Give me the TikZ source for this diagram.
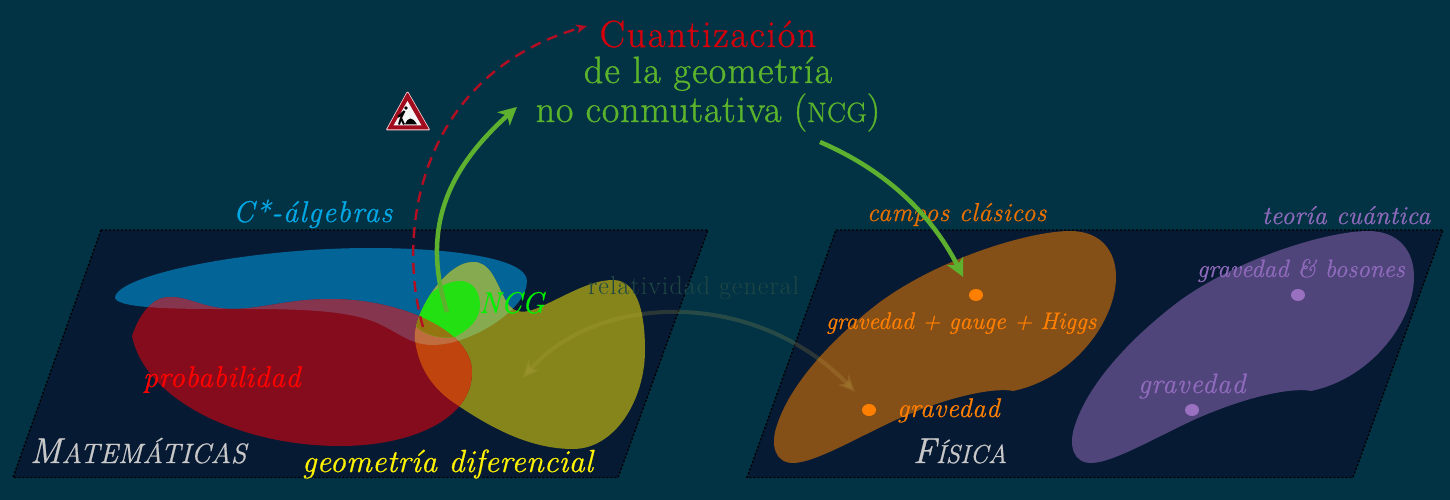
\documentclass[tikz,border=0pt]{standalone}
\usepackage{fontspec}
\setmainfont{Latin Modern Roman}
\usetikzlibrary{arrows.meta,bending,shapes.geometric}
\definecolor{bgc}{HTML}{023345}
\definecolor{planec}{HTML}{071A33}
\definecolor{bluea}{HTML}{036497}
\definecolor{reda}{HTML}{850C1C}
\definecolor{yela}{HTML}{85851B}
\definecolor{yb}{HTML}{85AA50}
\definecolor{rb}{HTML}{85364E}
\definecolor{ry}{HTML}{C0440E}
\definecolor{ryb}{HTML}{BF6C3E}
\definecolor{greena}{HTML}{22E012}
\definecolor{rg}{HTML}{957510}
\definecolor{orblob}{HTML}{854F18}
\definecolor{publob}{HTML}{4F457A}
\definecolor{orc}{HTML}{FF7F00}
\definecolor{orlab}{HTML}{E87000}
\definecolor{puc}{HTML}{9A70C0}
\definecolor{pulab}{HTML}{8F6ABC}
\definecolor{titr}{HTML}{D4000C}
\definecolor{titg}{HTML}{5BB42B}
\definecolor{arrg}{HTML}{5DB12F}
\definecolor{dashr}{HTML}{B40E22}
\definecolor{faint}{HTML}{BEAA4B}
\definecolor{cyanlab}{HTML}{00A9E6}
\definecolor{graylab}{HTML}{C8C8C8}
\definecolor{faintlab}{HTML}{1E4644}
\definecolor{ncgc}{HTML}{00F000}
\tikzset{
  plane/.style={fill=planec,draw=black,dash pattern=on 2pt off 2pt,line width=1.4pt},
  lab/.style 2 args={anchor=base west,inner sep=0pt,outer sep=0pt,font=\itshape\fontsize{#1}{#1}\selectfont\addfontfeature{FakeBold=0.7,LetterSpace=#2}},
  tit/.style 2 args={anchor=base,inner sep=0pt,outer sep=0pt,font=\fontsize{#1}{#1}\selectfont\addfontfeature{FakeBold=1,LetterSpace=#2}},
  dotmark/.style={ellipse,minimum width=14pt,minimum height=12pt,inner sep=0pt},
  bigarrow/.style={arrg,line width=4.5pt,-{Stealth[length=18pt,width=18pt,inset=5pt,bend]}},
}
\newcommand\pathB{(115,298) .. controls (118,307) and (160,309) .. (217,309) .. controls (280,309) and (340,308) .. (375,322) .. controls (400,333) and (410,345) .. (433,345) .. controls (470,345) and (527,310) .. (527,281) .. controls (527,258) and (450,248) .. (370,248) .. controls (250,248) and (115,275) .. (115,298) -- cycle}
\newcommand\pathR{(132,336) .. controls (138,318) and (150,297) .. (170,297) .. controls (190,297) and (205,309) .. (233,309) .. controls (260,309) and (290,299) .. (330,299) .. controls (400,299) and (472,330) .. (472,372) .. controls (472,420) and (410,446) .. (340,446) .. controls (240,446) and (145,400) .. (132,336) -- cycle}
\newcommand\pathY{(415,340) .. controls (412,315) and (445,262) .. (473,262) .. controls (490,262) and (495,280) .. (503,295) .. controls (510,312) and (520,316) .. (540,307) .. controls (565,296) and (590,280) .. (613,280) .. controls (640,280) and (645,320) .. (645,350) .. controls (645,400) and (615,449) .. (573,449) .. controls (530,449) and (490,428) .. (450,400) .. controls (430,385) and (418,365) .. (415,340) -- cycle}
\newcommand\pathG{(412,318) .. controls (422,298) and (442,281) .. (460,281) .. controls (475,281) and (480,295) .. (480,305) .. controls (480,320) and (468,330) .. (455,337) .. controls (438,340) and (414,332) .. (412,318) -- cycle}
\newcommand\pathO{(793,463) .. controls (775,463) and (770,445) .. (777,425) .. controls (790,385) and (830,340) .. (880,302) .. controls (940,258) and (1030,231) .. (1070,231) .. controls (1100,231) and (1116,250) .. (1116,277) .. controls (1116,320) and (1075,378) .. (1013,391) .. controls (1000,388) and (960,392) .. (900,418) .. controls (860,436) and (815,463) .. (793,463) -- cycle}
\begin{document}
\begin{tikzpicture}[x=1pt,y=-1pt]
\useasboundingbox (0,0) rectangle (1450,500);
\fill[bgc] (0,0) rectangle (1450,500);
\draw[plane] (101,230) -- (708,230) -- (618,477.5) -- (13,477.5) -- cycle;
\draw[plane] (836,230) -- (1443,230) -- (1353,477.5) -- (747,477.5) -- cycle;
% mathematics blobs, overlaps painted region by region
\fill[bluea] \pathB;
\fill[yela] \pathY;
\fill[reda] \pathR;
\begin{scope}\clip \pathB; \fill[yb] \pathY; \fill[rb] \pathR; \end{scope}
\begin{scope}\clip \pathY; \fill[ry] \pathR; \begin{scope}\clip \pathB; \fill[ryb] \pathR; \end{scope}\end{scope}
\begin{scope}\clip \pathY; \fill[greena] \pathG;
\begin{scope}\clip \pathG; \fill[rg] \pathR; \end{scope}\end{scope}
% physics blobs
\fill[orblob] \pathO;
\begin{scope}[xshift=298pt]\fill[publob] \pathO;\end{scope}
\node[dotmark,fill=orc] (d1) at (976,295) {};
\node[dotmark,fill=orc] (d2) at (869,410) {};
\node[dotmark,fill=puc] (d3) at (1298,295) {};
\node[dotmark,fill=puc] (d4) at (1192,410) {};
% titles
\node[tit={38}{4.4},text=titr] (t1) at (708,47) {Cuantización};
\node[tit={38}{3.2},text=titg] (t2) at (708,83) {de la geometría};
\node[tit={38}{2.1},text=titg] (t3) at (708,122) {no conmutativa ({\fontsize{28}{28}\selectfont NCG})};
% labels
\node[lab={30}{4},text=cyanlab] (l1) at (233,222) {C*-álgebras};
\node[lab={26}{2.3},text=orlab] (l2) at (867,221) {campos clásicos};
\node[lab={26}{1},text=pulab] (l3) at (1262,224) {teoría cuántica};
\node[lab={25}{0},text=pulab] (l4) at (1197,277) {gravedad \& bosones};
\node[lab={28}{2.5},text=pulab] (l5) at (1138,393) {gravedad};
\node[lab={24}{0},text=orc] (l6) at (826,329) {gravedad + gauge + Higgs};
\node[lab={27}{2},text=orc] (l7) at (897,417) {gravedad};
\node[lab={30}{1.7},text=red] (l8) at (143,387) {probabilidad};
\node[lab={32}{1},text=yellow] (l9) at (302,472) {geometría diferencial};
\node[lab={30}{0},text=ncgc] (l10) at (479,313) {NCG};
\node[anchor=base west,inner sep=0pt,font=\fontsize{26}{26}\selectfont\addfontfeature{LetterSpace=4},text=faintlab] (l11) at (588,294) {relatividad general};
\node[lab={36}{0},text=graylab] (l12) at (30,463) {M{\fontsize{28}{28}\selectfont ATEMÁTICAS}};
\node[lab={36}{0},text=graylab] (l13) at (913,463) {F{\fontsize{26}{26}\selectfont ÍSICA}};
% warning sign
\fill[pink!70!white,rounded corners=1.5pt] (407.5,90.5) -- (430.5,130.5) -- (385.5,130.5) -- cycle;
\fill[dashr!90!black,rounded corners=1pt] (407.5,92) -- (429,129.5) -- (387,129.5) -- cycle;
\fill[white!92!gray] (407.5,101) -- (421.5,125.5) -- (393.5,125.5) -- cycle;
\fill[black] (406,108) circle (1.8pt);
\draw[black,line width=2pt] (404.5,111) -- (401,118) -- (399,124.5) (401,118) -- (404,124.5) (404.5,111) -- (398,117);
\fill[black] (405,124.5) .. controls (408,117) and (412,116) .. (417,124.5) -- cycle;
% connectors
\coordinate (a1) at (447,312);
\coordinate (a2) at (517,107);
\coordinate (a3) at (820,142);
\coordinate (a4) at (963,277);
\coordinate (a5) at (423,327);
\coordinate (a6) at (587,26);
\coordinate (a7) at (523,378);
\coordinate (a8) at (855,392);
\draw[bigarrow] (a1) .. controls (418,220) and (455,160) .. (a2);
\draw[bigarrow] (a3) .. controls (885,170) and (935,215) .. (a4);
\draw[dashr,line width=2.4pt,dash pattern=on 11pt off 7pt,-{Stealth[length=11pt,width=9pt,inset=3pt]}] (a5) .. controls (395,230) and (420,70) .. (a6);
\draw[faint,opacity=.2,line width=4pt,{Stealth[length=17pt,width=15pt,inset=5pt,bend]}-{Stealth[length=17pt,width=15pt,inset=5pt,bend]}] (a7) .. controls (590,290) and (760,285) .. (a8);
\end{tikzpicture}
\end{document}
